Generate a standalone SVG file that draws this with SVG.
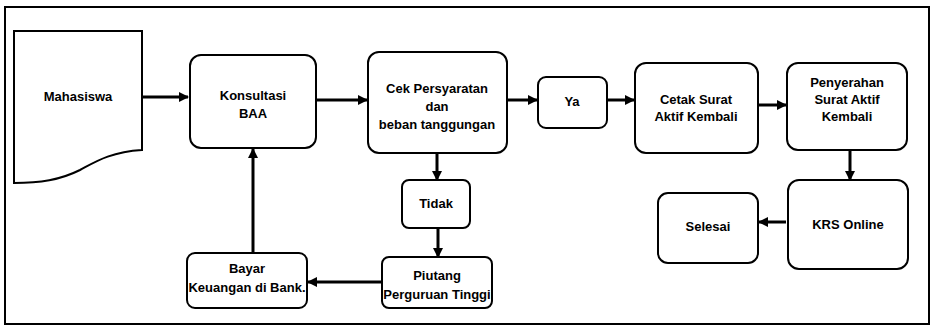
<svg xmlns="http://www.w3.org/2000/svg" width="935" height="333" viewBox="0 0 935 333">
<style>
.box{fill:#fff;stroke:#000;stroke-width:2}
.t{font-family:"Liberation Sans",Arial,sans-serif;font-size:13px;font-weight:bold;text-anchor:middle;fill:#000}
.c{fill:none;stroke:#000;stroke-width:3}
</style>
<defs>
<marker id="ah" viewBox="0 0 10 10" refX="9" refY="5" markerWidth="3.4" markerHeight="3.4" orient="auto" markerUnits="strokeWidth">
<path d="M0,0 L10,5 L0,10 Z" fill="#000"/>
</marker>
</defs>
<rect x="5" y="7" width="924" height="317" fill="#fff" stroke="#000" stroke-width="2"/>
<g id="connectors">
<line class="c" x1="143" y1="97" x2="188" y2="97" marker-end="url(#ah)"/>
<line class="c" x1="317" y1="100" x2="367" y2="100" marker-end="url(#ah)"/>
<line class="c" x1="508" y1="100" x2="537" y2="100" marker-end="url(#ah)"/>
<line class="c" x1="608" y1="100" x2="634" y2="100" marker-end="url(#ah)"/>
<line class="c" x1="759" y1="105" x2="786" y2="105" marker-end="url(#ah)"/>
<line class="c" x1="850" y1="151" x2="850" y2="180" marker-end="url(#ah)"/>
<line class="c" x1="786" y1="222" x2="759" y2="222" marker-end="url(#ah)"/>
<line class="c" x1="437" y1="154" x2="437" y2="180" marker-end="url(#ah)"/>
<line class="c" x1="438" y1="229" x2="438" y2="257" marker-end="url(#ah)"/>
<line class="c" x1="381" y1="282" x2="308" y2="282" marker-end="url(#ah)"/>
<line class="c" x1="253" y1="252" x2="253" y2="149" marker-end="url(#ah)"/>
</g>
<g id="mahasiswa">
<path class="box" d="M14,31 L142,31 L142,150 C110,152 95,162 80,170 C60,180 40,183 14,183 Z"/>
<text class="t" x="78" y="101">Mahasiswa</text>
</g>
<g id="konsultasi">
<rect class="box" x="190" y="55" width="126" height="93" rx="11"/>
<text class="t" x="253" y="100">Konsultasi</text>
<text class="t" x="253" y="118">BAA</text>
</g>
<g id="cek">
<rect class="box" x="368" y="52" width="139" height="101" rx="11"/>
<text class="t" x="437" y="93">Cek Persyaratan</text>
<text class="t" x="437" y="111">dan</text>
<text class="t" x="437" y="129">beban tanggungan</text>
</g>
<g id="ya">
<rect class="box" x="538" y="77" width="69" height="51" rx="8"/>
<text class="t" x="572" y="106">Ya</text>
</g>
<g id="cetak">
<rect class="box" x="635" y="63" width="123" height="90" rx="11"/>
<text class="t" x="696" y="104">Cetak Surat</text>
<text class="t" x="696" y="121">Aktif Kembali</text>
</g>
<g id="penyerahan">
<rect class="box" x="787" y="63" width="120" height="87" rx="11"/>
<text class="t" x="847" y="87">Penyerahan</text>
<text class="t" x="847" y="104">Surat Aktif</text>
<text class="t" x="847" y="121">Kembali</text>
</g>
<g id="krs">
<rect class="box" x="788" y="180" width="120" height="89" rx="11"/>
<text class="t" x="848" y="229">KRS Online</text>
</g>
<g id="selesai">
<rect class="box" x="658" y="193" width="100" height="70" rx="10"/>
<text class="t" x="708" y="231">Selesai</text>
</g>
<g id="tidak">
<rect class="box" x="402" y="180" width="68" height="48" rx="7"/>
<text class="t" x="436" y="208">Tidak</text>
</g>
<g id="piutang">
<rect class="box" x="382" y="257" width="110" height="51" rx="7"/>
<text class="t" x="437" y="280">Piutang</text>
<text class="t" x="437" y="299">Perguruan Tinggi</text>
</g>
<g id="bayar">
<rect class="box" x="187" y="253" width="120" height="55" rx="8"/>
<text class="t" x="247" y="273">Bayar</text>
<text class="t" x="247" y="292">Keuangan di Bank.</text>
</g>
</svg>
